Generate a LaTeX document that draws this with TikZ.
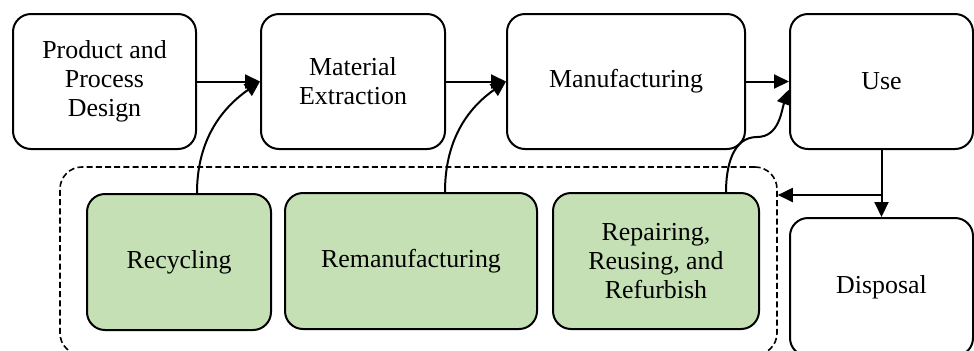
\documentclass[tikz,border=0pt]{standalone}
\usepackage{fontspec}
\setmainfont{Liberation Serif}
\usetikzlibrary{arrows.meta,calc}
\definecolor{lgreen}{HTML}{C5E0B4}
\tikzset{
  boxnode/.style={draw=black, line width=1pt, rounded corners=9pt, align=center,
    font=\fontsize{12.95}{14.5}\selectfont, inner sep=2pt},
  greenbox/.style={boxnode, fill=lgreen},
  groupbox/.style={draw=black, line width=0.8pt, dashed, dash pattern=on 3pt off 1.6pt, rounded corners=11pt},
  arr/.style={line width=1pt, -{Triangle[length=7.5pt,width=7pt]}},
}
\begin{document}
\begin{tikzpicture}[x=0.5pt,y=-0.5pt]
\useasboundingbox (0,0) rectangle (974,350);
\clip (0,0) rectangle (974,350);
% dashed group
\node[groupbox, minimum width=358.5pt, minimum height=94pt] (grp) at (418.5,261) {};
% top row
\node[boxnode, minimum width=91.5pt, minimum height=67.5pt] (ppd) at (104.5,81.5) {Product and\\Process\\Design};
\node[boxnode, minimum width=92pt, minimum height=67.5pt] (me) at (353,81.5) {Material\\Extraction};
\node[boxnode, minimum width=119pt, minimum height=67.5pt] (man) at (626,81.5) {Manufacturing};
\node[boxnode, minimum width=91.5pt, minimum height=67.5pt] (use) at (881.5,81.5) {Use};
% bottom row
\node[greenbox, minimum width=92pt, minimum height=68pt] (rec) at (179,262) {Recycling};
\node[greenbox, minimum width=126pt, minimum height=68pt] (rem) at (411,261) {Remanufacturing};
\node[greenbox, minimum width=103pt, minimum height=68pt] (rep) at (656,261) {Repairing,\\Reusing, and\\Refurbish};
\node[boxnode, minimum width=91.5pt, minimum height=69pt] (dis) at (881.5,287) {Disposal};
% flow arrows
\draw[arr] (ppd.east) -- (me.west);
\draw[arr] (me.east) -- (man.west);
\draw[arr] (man.east) -- (use.west);
% return arrows
\draw[arr] ([xshift=9pt]rec.north) to[out=90,in=215] (me.west);
\draw[arr] ([xshift=17pt]rem.north) to[out=90,in=215] (man.west);
\coordinate (rp) at (757,137);
\draw[arr] ([xshift=35pt]rep.north) to[out=90,in=180] (rp) to[out=0,in=-110] ([yshift=-4pt]use.west);
% use to disposal, branch back
\coordinate (br) at (use.south |- 0,195);
\draw[arr] (use.south) -- (dis.north);
\draw[arr] (br) -- (br -| grp.east);
\end{tikzpicture}
\end{document}
